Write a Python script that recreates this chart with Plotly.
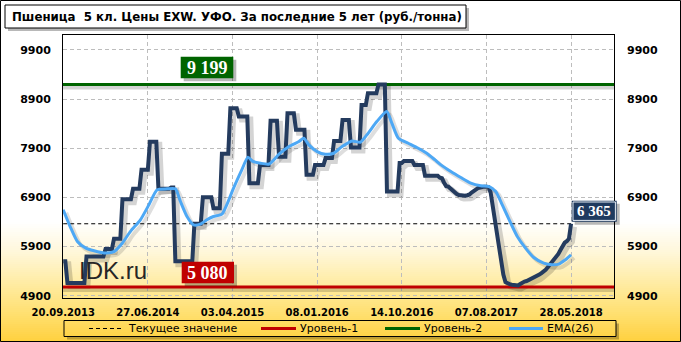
import plotly.graph_objects as go

# ---------------- data ----------------
tick_labels = ["20.09.2013", "27.06.2014", "03.04.2015", "08.01.2016",
               "14.10.2016", "07.08.2017", "28.05.2018"]
tick_weeks = [0, 40, 80, 120, 160, 200, 240]
y_ticks = [4900, 5900, 6900, 7900, 8900, 9900]
y_tick_text = ["4900", "5900", "6900", "7900", "8900", "9900"]

# weekly price, rub/t (week 0 = 20.09.2013)
price = [
    5600, 5600,
    5160, 5160, 5160, 5160, 5160, 5160, 5160, 5160, 5160,
    5700, 5700, 5700, 5700, 5700, 5700, 5700, 5700, 5700,
    5850, 5850, 5850, 5850,
    6060, 6060, 6060, 6060,
    6865, 6865, 6865, 6865, 6865,
    7075, 7075, 7075, 7075,
    7465, 7465, 7465, 7465,
    8035, 8035, 8035, 8035,
    7075, 7075, 7075, 7075, 7075, 7075,
    7100, 7100,
    5600, 5600, 5600, 5600, 5600, 5600, 5600, 5600, 5600,
    6365, 6365, 6365, 6365,
    6905, 6905, 6905, 6905, 6905,
    6680, 6680, 6680, 6680,
    7790, 7790, 7790, 7790,
    8715, 8715, 8715, 8715,
    8545, 8545, 8545, 8545, 8545,
    7190, 7190, 7190, 7190, 7190,
    7560, 7560, 7560, 7560, 7560,
    8460, 8460, 8460, 8460,
    7730, 7730, 7730, 7730,
    8610, 8610, 8610, 8610,
    8275, 8275, 8275, 8275, 8275,
    7360, 7360, 7360, 7360,
    7560, 7560, 7560, 7560, 7560,
    7700, 7700, 7700, 7700,
    8050, 8050, 8050, 8050,
    8475, 8475, 8475, 8475,
    7915, 7915, 7915, 7915, 7915,
    8780, 8780, 8780,
    9020, 9020, 9020, 9020, 9020,
    9199, 9199, 9199, 9199,
    7020, 7020, 7020, 7020, 7020, 7020,
    7600, 7600,
    7640, 7640, 7640, 7640, 7640,
    7560, 7560, 7560, 7560, 7560,
    7340, 7340, 7340, 7340, 7340, 7340, 7340,
    7300, 7290, 7200, 7130, 7120, 7080, 7060, 7020, 6970, 6950,
    6940, 6935, 6935, 6945, 6960, 7000, 7040, 7060, 7090, 7105,
    7115, 7120, 7120, 7110, 7000, 6700, 6420, 6150, 5880, 5600,
    5330, 5180, 5150, 5135, 5125, 5120, 5110, 5110, 5140, 5170,
    5190, 5200, 5220, 5235, 5260, 5285, 5300, 5330, 5360, 5385,
    5430, 5480, 5530, 5580, 5630, 5680, 5750, 5830, 5920, 5980,
    6010, 6060, 6365,
]
weeks = list(range(len(price)))

# EMA(26)
ema_weeks = [0, 3.6, 6.7, 10.7, 14.6, 19.3, 24, 27.9, 31.8, 36.5, 40.5, 44.4,
             49.1, 53, 55.4, 58.5, 61.6, 64.8, 67.9, 71, 75, 77.3, 80.5, 84.4,
             87.3, 89.4, 93.3, 97.3, 102, 106.7, 111.4, 113.7, 116.1, 120,
             123.9, 127.8, 131.8, 136.5, 140.4, 143.5, 148.2, 152.9, 155.3,
             158.4, 163.1, 167.8, 171.8, 175.7, 178.5, 183.2, 187.9, 192.6,
             197.3, 201.3, 204.4, 207.5, 211.5, 214.6, 218.5, 222.4, 227.1,
             231.1, 234.2, 237.3, 240]
ema_values = [6650, 6275, 6004, 5869, 5815, 5770, 5800, 5970, 6210, 6445, 6750,
              7055, 7075, 7075, 6817, 6513, 6343, 6357, 6445, 6513, 6560, 6750,
              7089, 7461, 7720, 7640, 7596, 7580, 7779, 7935, 8037, 8105, 7969,
              7833, 7779, 7799, 7935, 8050, 8023, 8172, 8443, 8647, 8410, 8105,
              8003, 7901, 7799, 7664, 7563, 7427, 7305, 7190, 7136, 7122, 7021,
              6750, 6377, 6106, 5869, 5679, 5564, 5530, 5544, 5632, 5733]

level1 = 5080
level2 = 9199
current = 6365

title_text = "Пшеница\u00a0 5 кл. Цены EXW. УФО. За последние 5 лет (руб./тонна)"
legend_names = ["Текущее значение", "Уровень-1", "Уровень-2", "EMA(26)"]

# ---------------- geometry helpers (pixels -> paper) ----------------
W, H = 681, 342
L, R, T, B = 63, 614, 35, 298
X_RANGE = [-0.1, 260.3]
Y_RANGE = [4855, 10204]


def px(x):
    return (x - L) / (R - L)


def py(y):
    return (B - y) / (B - T)


# shadow offsets in data units (~3px right, ~3px down)
SDX = 3 * (X_RANGE[1] - X_RANGE[0]) / (R - L)
SDY = 3 * (Y_RANGE[1] - Y_RANGE[0]) / (B - T)

NAVY = "#243B5E"
BLUE = "#4DA8F5"
GREEN = "#006400"
RED = "#C00000"
SHADOW = "rgba(0,0,0,0.17)"

fig = go.Figure()

x_full = [X_RANGE[0], X_RANGE[1]]

# shadows
fig.add_trace(go.Scatter(x=x_full, y=[level2 - SDY] * 2, mode="lines",
                         line=dict(color=SHADOW, width=4), hoverinfo="skip", showlegend=False))
fig.add_trace(go.Scatter(x=x_full, y=[level1 - SDY] * 2, mode="lines",
                         line=dict(color=SHADOW, width=4), hoverinfo="skip", showlegend=False))
fig.add_trace(go.Scatter(x=[w + SDX for w in weeks], y=[v - SDY for v in price], mode="lines",
                         line=dict(color=SHADOW, width=6), hoverinfo="skip", showlegend=False))
fig.add_trace(go.Scatter(x=[w + SDX for w in ema_weeks], y=[v - SDY for v in ema_values],
                         mode="lines", line=dict(color="rgba(0,0,0,0.13)", width=4, shape="spline",
                                                 smoothing=0.6),
                         hoverinfo="skip", showlegend=False))

# level lines & current value
fig.add_trace(go.Scatter(x=[weeks[0], weeks[-1]], y=[current, current], mode="lines",
                         name=legend_names[0], line=dict(color="black", width=1, dash="4px,3px"),
                         showlegend=False))
fig.add_trace(go.Scatter(x=x_full, y=[level1] * 2, mode="lines", name=legend_names[1],
                         line=dict(color=RED, width=3), showlegend=False))
fig.add_trace(go.Scatter(x=x_full, y=[level2] * 2, mode="lines", name=legend_names[2],
                         line=dict(color=GREEN, width=3), showlegend=False))

# price & EMA
fig.add_trace(go.Scatter(x=weeks, y=price, mode="lines", name="Цена",
                         line=dict(color=NAVY, width=4), showlegend=False))
fig.add_trace(go.Scatter(x=ema_weeks, y=ema_values, mode="lines", name=legend_names[3],
                         line=dict(color=BLUE, width=3, shape="spline", smoothing=0.6),
                         showlegend=False))
# invisible trace for right axis
fig.add_trace(go.Scatter(x=[weeks[0]], y=[current], yaxis="y2", mode="markers",
                         marker=dict(opacity=0), hoverinfo="skip", showlegend=False))

shapes = []
annotations = []

# background gradient (white -> golden yellow)
stops = [(222, (255, 255, 255)), (252, (255, 247, 218)), (285, (255, 235, 160)),
         (315, (255, 223, 110)), (342, (255, 208, 62))]


def col_at(y):
    for (y0, c0), (y1, c1) in zip(stops, stops[1:]):
        if y0 <= y <= y1:
            t = (y - y0) / (y1 - y0)
            return "rgb(%d,%d,%d)" % tuple(round(a + (b - a) * t) for a, b in zip(c0, c1))
    return "rgb(255,208,62)"


for y in range(222, 342, 2):
    shapes.append(dict(type="rect", xref="paper", yref="paper", x0=px(0), x1=px(W),
                       y0=py(min(y + 3, H)), y1=py(y), fillcolor=col_at(y + 1),
                       line=dict(width=0), layer="below"))

# outer border
shapes.append(dict(type="rect", xref="paper", yref="paper", x0=px(0.5), x1=px(W - 0.5),
                   y0=py(H - 0.5), y1=py(0.5), line=dict(color="black", width=1)))


def rect(x0, y0, x1, y1, fill, line=None):
    shapes.append(dict(type="rect", xref="paper", yref="paper", x0=px(x0), x1=px(x1),
                       y0=py(y1), y1=py(y0), fillcolor=fill,
                       line=line or dict(width=0)))


def box(x0, y0, x1, y1, fill, line_color=None):
    rect(x0 + 3, y0 + 3, x1 + 3, y1 + 3, "rgba(0,0,0,0.28)")
    rect(x0, y0, x1, y1, fill,
         dict(width=1, color=line_color) if line_color else None)


# title box
box(5, 5, 466, 28, "white", "black")
annotations.append(dict(xref="paper", yref="paper", x=px(10), y=py(16.5), xanchor="left",
                        yanchor="middle", text=title_text, showarrow=False,
                        font=dict(family="DejaVu Sans", size=11.8, color="black", weight="bold")))

# value labels
box(180.7, 56.7, 233.3, 78.3, GREEN)
annotations.append(dict(xref="paper", yref="paper", x=px(207), y=py(67.5),
                        text=f"{level2:,}".replace(",", " "),
                        showarrow=False, xanchor="center", yanchor="middle",
                        font=dict(family="Liberation Serif", size=18, color="white", weight="bold")))
box(181.7, 261.7, 234, 283.3, RED)
annotations.append(dict(xref="paper", yref="paper", x=px(207.9), y=py(272.5),
                        text=f"{level1:,}".replace(",", " "),
                        showarrow=False, xanchor="center", yanchor="middle",
                        font=dict(family="Liberation Serif", size=18, color="white", weight="bold")))
box(571.7, 200.7, 616.7, 221.7, "#1F3A5F")
rect(573, 202, 615.4, 220.4, "rgba(0,0,0,0)", dict(color="#E8EEF5", width=1))
annotations.append(dict(xref="paper", yref="paper", x=px(594.2), y=py(211.4),
                        text=f"{current:,}".replace(",", " "),
                        showarrow=False, xanchor="center", yanchor="middle",
                        font=dict(family="Liberation Serif", size=15, color="white", weight="bold")))

# watermark
annotations.append(dict(xref="paper", yref="paper", x=px(112.5), y=py(270), text="IDK.ru",
                        showarrow=False, xanchor="center", yanchor="middle",
                        font=dict(family="Liberation Sans", size=24, color="#262626")))

# legend (manual): shadow strips, then frame
rect(616, 323.5, 619, 339.5, "rgba(0,0,0,0.25)")
rect(67, 336.5, 616, 339.5, "rgba(0,0,0,0.25)")
rect(64, 320.5, 616, 336.5, "rgba(0,0,0,0)", dict(color="black", width=1))
ly = py(328.5)
leg_items = [(89, 121, dict(color="black", width=1, dash="4px,3px"), 126),
             (261, 296, dict(color=RED, width=3), 298),
             (385, 420, dict(color=GREEN, width=3), 422),
             (509, 543, dict(color=BLUE, width=3), 545)]
for (x0, x1, ln, tx), name in zip(leg_items, legend_names):
    shapes.append(dict(type="line", xref="paper", yref="paper", x0=px(x0), x1=px(x1),
                       y0=ly, y1=ly, line=ln))
    annotations.append(dict(xref="paper", yref="paper", x=px(tx), y=ly, text=name,
                            showarrow=False, xanchor="left", yanchor="middle",
                            font=dict(family="DejaVu Sans", size=11, color="black")))

axis_common = dict(showline=True, linecolor="black", linewidth=1, zeroline=False,
                   gridcolor="#BDBDBD", griddash="4px,3px", gridwidth=1)
tick_font_y = dict(family="DejaVu Sans", size=11, color="black", weight="bold")

fig.update_layout(
    width=W, height=H, autosize=False,
    margin=dict(l=L, r=W - R, t=T, b=H - B, pad=0),
    paper_bgcolor="white", plot_bgcolor="rgba(0,0,0,0)",
    showlegend=False,
    xaxis=dict(range=X_RANGE, tickmode="array", tickvals=tick_weeks, ticktext=tick_labels,
               showgrid=True, mirror=True, ticks="", ticklabelstandoff=5,
               tickfont=dict(family="DejaVu Sans", size=10, color="black", weight="bold"),
               **axis_common),
    yaxis=dict(range=Y_RANGE, tickmode="array", tickvals=y_ticks, ticktext=y_tick_text,
               showgrid=True, mirror=True, ticks="", ticklabelstandoff=9,
               tickfont=tick_font_y, **axis_common),
    yaxis2=dict(range=Y_RANGE, tickmode="array", tickvals=y_ticks, ticktext=y_tick_text,
                overlaying="y", side="right", showgrid=False, showline=False, zeroline=False,
                ticks="", ticklabelstandoff=12, tickfont=tick_font_y),
    shapes=shapes,
    annotations=annotations,
)

fig.write_html("out.html")
